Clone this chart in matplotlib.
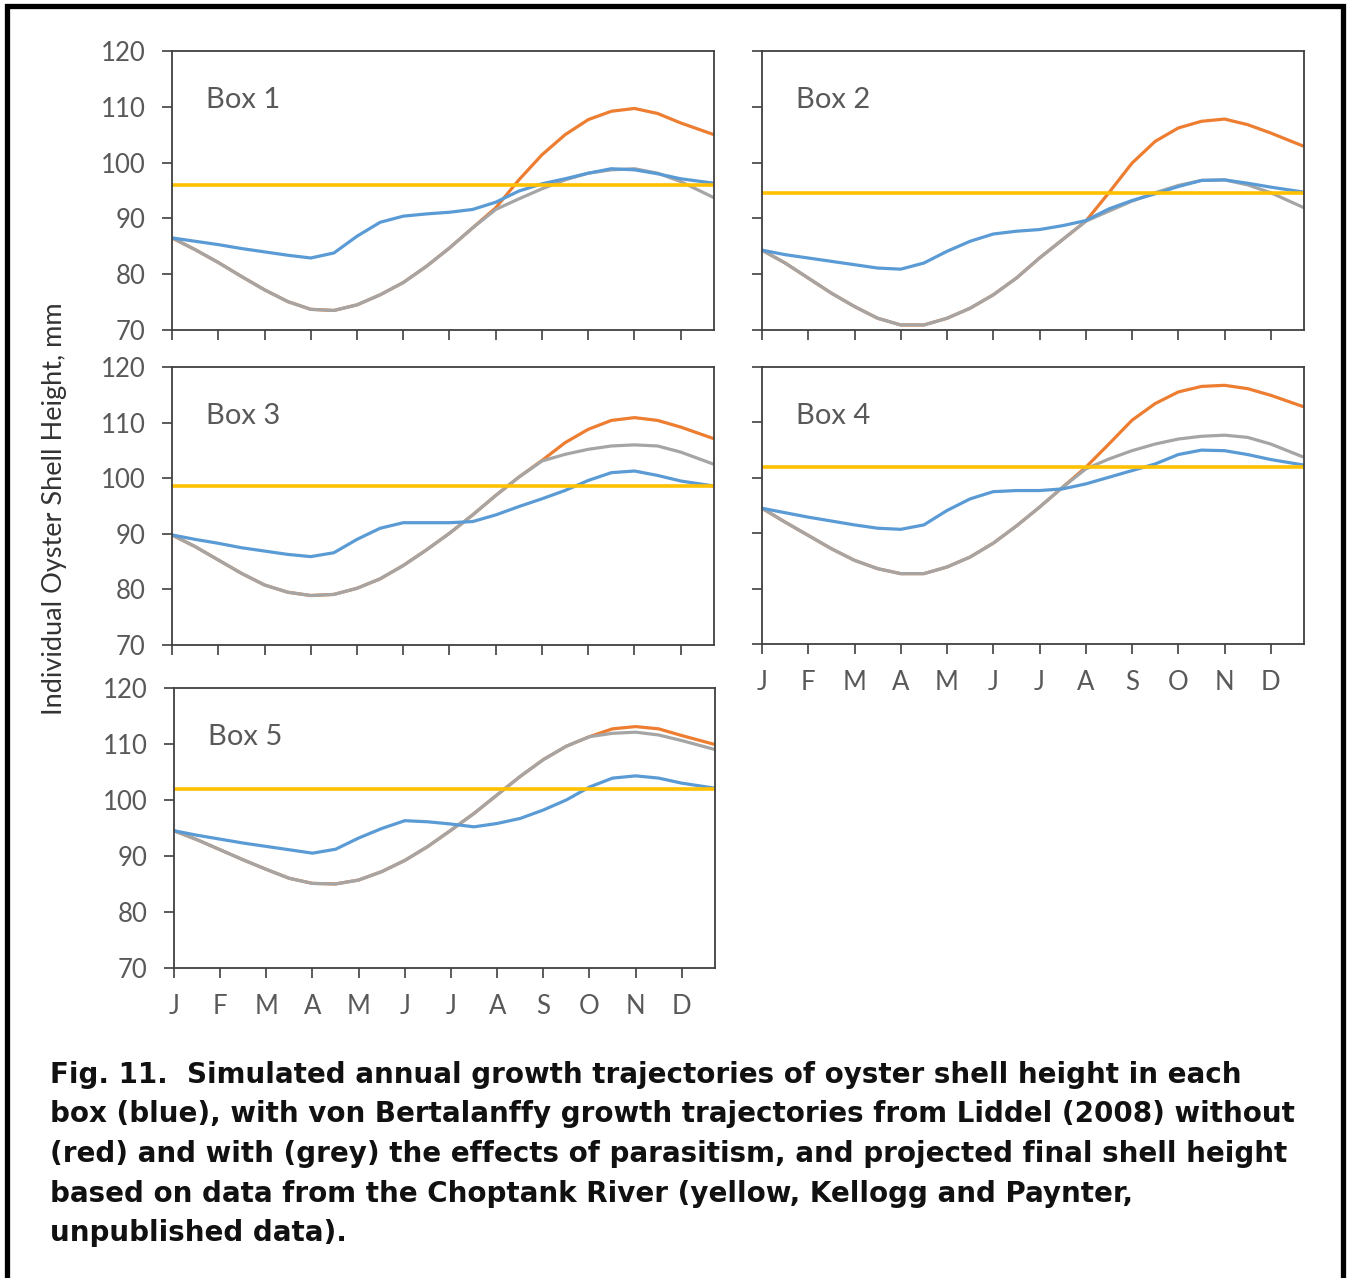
import matplotlib.pyplot as plt
from matplotlib.patches import Rectangle

# month positions of the sampled points (half-month steps, last one = end of Dec)
t = [0, 0.5, 1, 1.5, 2, 2.5, 3, 3.5, 4, 4.5, 5, 5.5, 6, 6.5, 7, 7.5, 8, 8.5,
     9, 9.5, 10, 10.5, 11, 11.72]
months = ['J', 'F', 'M', 'A', 'M', 'J', 'J', 'A', 'S', 'O', 'N', 'D']
box_names = ['Box 1', 'Box 2', 'Box 3', 'Box 4', 'Box 5']

# simulated shell height (blue)
blue1 = [86.5, 85.9, 85.3, 84.6, 84.0, 83.4, 82.9, 83.8, 86.8, 89.3, 90.4, 90.8,
         91.1, 91.6, 92.9, 94.9, 96.2, 97.1, 98.1, 98.9, 98.7, 98.0, 97.1, 96.3]
blue2 = [84.3, 83.5, 82.9, 82.3, 81.7, 81.1, 80.9, 82.0, 84.1, 85.9, 87.2, 87.7,
         88.0, 88.7, 89.6, 91.7, 93.2, 94.4, 95.7, 96.8, 96.9, 96.3, 95.6, 94.7]
blue3 = [89.8, 89.0, 88.3, 87.5, 86.9, 86.3, 85.9, 86.6, 89.0, 91.0, 92.0, 92.0,
         92.0, 92.2, 93.4, 94.9, 96.3, 97.8, 99.6, 101.0, 101.3, 100.5, 99.5, 98.6]
blue4 = [94.5, 93.7, 92.9, 92.2, 91.5, 90.9, 90.7, 91.5, 94.1, 96.2, 97.5, 97.7,
         97.7, 98.0, 98.9, 100.1, 101.3, 102.5, 104.2, 105.0, 104.9, 104.2, 103.3, 102.3]
blue5 = [94.5, 93.7, 93.0, 92.3, 91.7, 91.1, 90.5, 91.2, 93.2, 94.9, 96.3, 96.1,
         95.7, 95.2, 95.8, 96.7, 98.2, 100.0, 102.3, 103.9, 104.3, 103.9, 103.0, 102.1]

# von Bertalanffy with parasitism (grey)
grey1 = [86.5, 84.4, 82.1, 79.6, 77.2, 75.1, 73.7, 73.5, 74.5, 76.3, 78.5, 81.4,
         84.7, 88.3, 91.6, 93.5, 95.3, 96.9, 98.1, 98.7, 98.9, 98.1, 96.6, 93.7]
grey2 = [84.3, 82.0, 79.3, 76.6, 74.2, 72.1, 70.9, 70.9, 72.1, 73.9, 76.3, 79.3,
         82.9, 86.2, 89.5, 91.3, 93.1, 94.6, 95.9, 96.8, 96.9, 96.0, 94.6, 91.9]
grey3 = [89.8, 87.7, 85.3, 82.9, 80.8, 79.5, 78.9, 79.1, 80.2, 81.9, 84.3, 87.1,
         90.1, 93.4, 96.9, 100.2, 103.1, 104.3, 105.2, 105.8, 106.0, 105.8, 104.7, 102.5]
grey4 = [94.5, 92.0, 89.6, 87.2, 85.1, 83.6, 82.7, 82.7, 83.9, 85.7, 88.2, 91.3,
         94.7, 98.3, 101.6, 103.4, 104.9, 106.1, 107.0, 107.5, 107.7, 107.3, 106.1, 103.7]
grey5 = [94.5, 92.9, 91.1, 89.3, 87.6, 86.0, 85.1, 85.0, 85.7, 87.2, 89.2, 91.7,
         94.6, 97.6, 100.9, 104.2, 107.2, 109.6, 111.3, 111.9, 112.1, 111.6, 110.6, 109.0]

# von Bertalanffy without parasitism (red/orange)
red1 = [86.5, 84.4, 82.1, 79.6, 77.2, 75.1, 73.7, 73.5, 74.5, 76.3, 78.5, 81.4,
        84.7, 88.3, 91.9, 96.9, 101.4, 105.0, 107.7, 109.2, 109.7, 108.8, 107.1, 105.0]
red2 = [84.3, 82.0, 79.3, 76.6, 74.2, 72.1, 70.9, 70.9, 72.1, 73.9, 76.3, 79.3,
        82.9, 86.2, 89.5, 94.6, 99.9, 103.8, 106.2, 107.4, 107.8, 106.8, 105.3, 102.9]
red3 = [89.8, 87.7, 85.3, 82.9, 80.8, 79.5, 78.9, 79.1, 80.2, 81.9, 84.3, 87.1,
        90.1, 93.4, 96.9, 100.2, 103.2, 106.4, 108.8, 110.4, 110.9, 110.4, 109.2, 107.1]
red4 = [94.5, 92.0, 89.6, 87.2, 85.1, 83.6, 82.7, 82.7, 83.9, 85.7, 88.2, 91.3,
        94.7, 98.3, 101.9, 106.1, 110.4, 113.4, 115.5, 116.5, 116.7, 116.1, 114.9, 112.8]
red5 = [94.5, 92.9, 91.1, 89.3, 87.6, 86.0, 85.1, 85.0, 85.7, 87.2, 89.2, 91.7,
        94.6, 97.6, 100.9, 104.2, 107.2, 109.6, 111.3, 112.7, 113.1, 112.7, 111.5, 109.9]

# Choptank River projected final height (yellow)
final_h = [96.0, 94.6, 98.6, 102.0, 101.9]

blues = [blue1, blue2, blue3, blue4, blue5]
greys = [grey1, grey2, grey3, grey4, grey5]
reds = [red1, red2, red3, red4, red5]

txt = '#595959'
plt.rcParams['font.family'] = ['Lato', 'DejaVu Sans']

fig = plt.figure(figsize=(13.48, 12.78), dpi=100)

# panel rectangles [left, bottom, width, height]
rects = [[0.1276, 0.7418, 0.4021, 0.2183],
         [0.5653, 0.7418, 0.4021, 0.2183],
         [0.1276, 0.4953, 0.4021, 0.2175],
         [0.5653, 0.4961, 0.4021, 0.2167],
         [0.1291, 0.2426, 0.4013, 0.2191]]

for i in range(5):
  ax = fig.add_axes(rects[i])
  kw = dict(lw=2.3, solid_joinstyle='round', solid_capstyle='butt')
  ax.plot(t, reds[i], color='#ED7D31', **kw)
  ax.plot(t, greys[i], color='#A5A5A5', **kw)
  ax.plot(t, blues[i], color='#5B9BD5', **kw)
  ax.plot([t[0], t[-1]], [final_h[i], final_h[i]], color='#FFC000', lw=2.6)
  ax.set_xlim(0, t[-1])
  ax.set_ylim(70, 120)
  ax.set_yticks(range(70, 121, 10))
  ax.set_xticks(range(12))
  ax.tick_params(direction='out', length=7, width=1.2, color='#404040',
                 labelsize=18.5, labelcolor=txt, pad=12)
  for s in ax.spines.values():
    s.set_color('#404040')
    s.set_linewidth(1.3)
  if i in (1, 3):
    ax.set_yticklabels([])
  if i in (3, 4):
    ax.set_xticklabels(months)
  else:
    ax.set_xticklabels([])
  ax.text(0.063, 0.825, box_names[i], transform=ax.transAxes, fontsize=21,
          color=txt, va='center', ha='left')

fig.text(0.0408, 0.6017, 'Individual Oyster Shell Height, mm', rotation=90,
         fontsize=19.5, color='#333333', ha='center', va='center')

caption = ['Fig. 11.  Simulated annual growth trajectories of oyster shell height in each',
           'box (blue), with von Bertalanffy growth trajectories from Liddel (2008) without',
           '(red) and with (grey) the effects of parasitism, and projected final shell height',
           'based on data from the Choptank River (yellow, Kellogg and Paynter,',
           'unpublished data).']
for k, line in enumerate(caption):
  fig.text(50 / 1348, 1 - (1075 + 39.5 * k) / 1278, line, fontsize=20,
           fontweight='bold', family=['DejaVu Sans'],
           color='#111111', ha='left', va='center')

# frame around the figure (open at the bottom)
fig.patches.append(Rectangle((7 / 1348, -0.05), 1336 / 1348, 1.05 - 5.5 / 1278,
                             transform=fig.transFigure, fill=False,
                             edgecolor='black', lw=3.8))

fig.savefig('out.png', dpi=100, facecolor='white')
